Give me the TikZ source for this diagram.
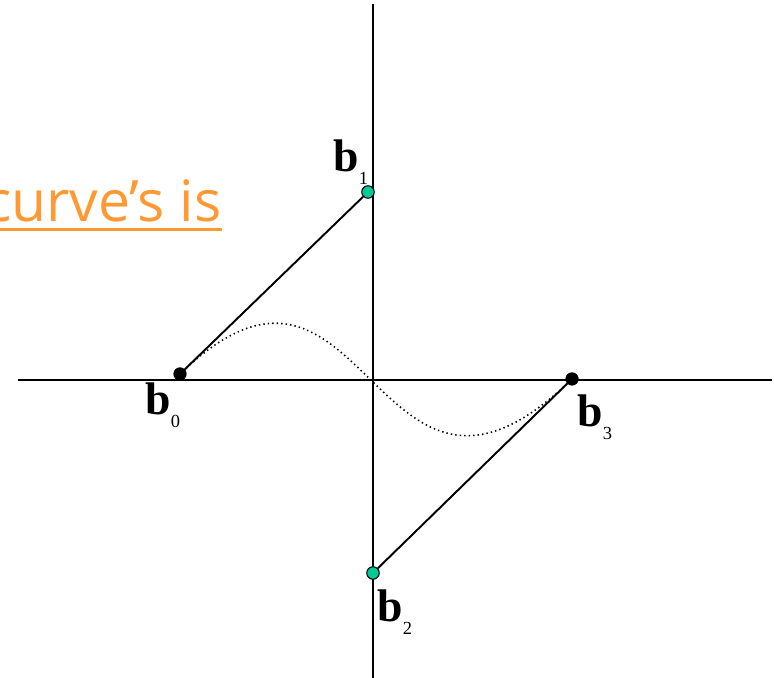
\documentclass[tikz,border=0pt]{standalone}
\usepackage{fontspec}
\setmainfont{Liberation Serif}
\newfontfamily\slidefont{Open Sans}
\usetikzlibrary{positioning}

\definecolor{slideorange}{RGB}{255,153,51}
\definecolor{ctrlgreen}{RGB}{0,200,150}

% control point label: bold b with a small index
\newcommand{\ctrlpt}[1]{{\fontsize{26}{29}\selectfont\bfseries b}{\fontsize{10.5}{12}\selectfont\raisebox{-7pt}{#1}}}

\begin{document}
\begin{tikzpicture}[x=0.02cm, y=0.02cm,
    every node/.style={inner sep=0pt},
    axis/.style={black, line width=1.3pt},
    hull/.style={black, line width=1.1pt},
    curvepath/.style={black, line width=0.9pt, dash pattern=on 0.8pt off 1.75pt},
    endpt/.style={circle, fill=black, minimum size=0.26cm},
    midpt/.style={circle, draw=black, line width=0.6pt, fill=ctrlgreen, minimum size=0.25cm}]

    % frame of the slide
    \clip (-373,-298) rectangle (401,380);

    % =====================================================
    % Title fragment
    % =====================================================
    \node[anchor=base east, slideorange, font=\slidefont\fontsize{32.5}{36}\selectfont] (title) at (-151,158) {curve’s is};
    \draw[slideorange, line width=1.7pt] ([yshift=-0.16cm]title.base west) -- ([yshift=-0.16cm]title.base east);

    % =====================================================
    % Axes
    % =====================================================
    \coordinate (xl) at (-355,0);
    \coordinate (xr) at (399,0);
    \coordinate (yt) at (0,376);
    \coordinate (yb) at (0,-298);
    \draw[axis] (xl) -- (xr);
    \draw[axis] (yt) -- (yb);

    % =====================================================
    % Control points and curve
    % =====================================================
    \node[endpt] (b0) at (-193,6) {};
    \node[midpt] (b1) at (-5,188) {};
    \node[midpt] (b2) at (0,-193) {};
    \node[endpt] (b3) at (199,1) {};

    \draw[hull] (b0.center) -- (b1);
    \draw[hull] (b2) -- (b3.center);
    \draw[curvepath] (b0.center) .. controls (b1.center) and (b2.center) .. (b3.center);

    \node[endpt] at (b0) {};
    \node[endpt] at (b3) {};

    \node[anchor=base west] (l0) at (-228,-35) {\ctrlpt{0}};
    \node[anchor=base west] (l1) at (-40,208) {\ctrlpt{1}};
    \node[anchor=base west] (l2) at (4,-242) {\ctrlpt{2}};
    \node[anchor=base west] (l3) at (204,-47) {\ctrlpt{3}};

\end{tikzpicture}
\end{document}
